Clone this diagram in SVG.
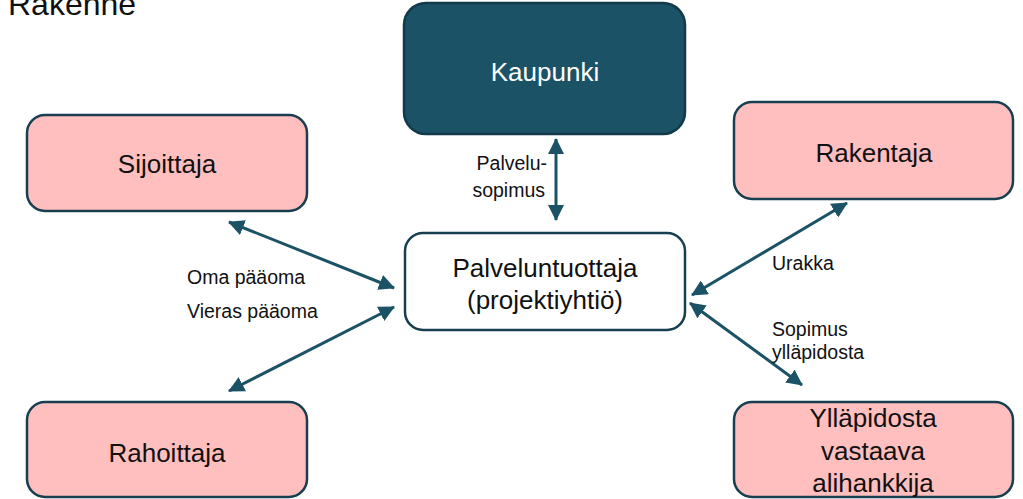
<svg xmlns="http://www.w3.org/2000/svg" width="1023" height="499" viewBox="0 0 1023 499">
  <style>
    .box { fill: #ffbfbf; stroke: #173f4f; stroke-width: 2.5; }
    .dark { fill: #1b5266; stroke: #123a4a; stroke-width: 2.5; }
    .plain { fill: #ffffff; stroke: #173f4f; stroke-width: 2.5; }
    .node-text { font-family: "Liberation Sans", Arial, sans-serif; font-size: 26px; fill: #111111; text-anchor: middle; }
    .label { font-family: "Liberation Sans", Arial, sans-serif; font-size: 19.5px; fill: #111111; }
    .link { stroke: #1b5266; stroke-width: 3; fill: none; marker-start: url(#head); marker-end: url(#head); }
  </style>
  <defs>
    <marker id="head" viewBox="0 0 16 16" refX="15" refY="8" markerWidth="16" markerHeight="16" markerUnits="userSpaceOnUse" orient="auto-start-reverse">
      <path d="M0,0 L16,8 L0,16 Z" fill="#1b5266"/>
    </marker>
  </defs>

  <rect width="1023" height="499" fill="#ffffff"/>

  <!-- heading runs past the top edge -->
  <text x="8" y="15" font-family="Liberation Sans, Arial, sans-serif" font-size="32" fill="#111111">Rakenne</text>

  <g id="kaupunki">
    <rect class="dark" x="404" y="3" width="281" height="131" rx="22"/>
    <text class="node-text" x="545" y="81" style="fill:#ffffff">Kaupunki</text>
  </g>

  <g id="sijoittaja">
    <rect class="box" x="27" y="115" width="280" height="96" rx="18"/>
    <text class="node-text" x="167" y="173">Sijoittaja</text>
  </g>

  <g id="rakentaja">
    <rect class="box" x="734" y="102" width="279" height="97" rx="18"/>
    <text class="node-text" x="874" y="162">Rakentaja</text>
  </g>

  <g id="palveluntuottaja">
    <rect class="plain" x="405" y="233" width="280" height="97" rx="18"/>
    <text class="node-text" x="545" y="277">Palveluntuottaja</text>
    <text class="node-text" x="545" y="309">(projektiyhtiö)</text>
  </g>

  <g id="rahoittaja">
    <rect class="box" x="27" y="402" width="280" height="95" rx="18"/>
    <text class="node-text" x="167" y="462">Rahoittaja</text>
  </g>

  <g id="alihankkija">
    <rect class="box" x="734" y="402" width="279" height="95" rx="18"/>
    <text class="node-text" x="873" y="427">Ylläpidosta</text>
    <text class="node-text" x="873" y="460">vastaava</text>
    <text class="node-text" x="873" y="492">alihankkija</text>
  </g>

  <g id="connectors">
    <line class="link" x1="556" y1="139" x2="556" y2="220"/>
    <line class="link" x1="229" y1="222" x2="394" y2="288"/>
    <line class="link" x1="394" y1="307" x2="229" y2="391"/>
    <line class="link" x1="847" y1="203" x2="692" y2="295"/>
    <line class="link" x1="690" y1="303" x2="802" y2="385"/>
  </g>

  <g id="labels">
    <text class="label" x="547" y="170" text-anchor="end">Palvelu-</text>
    <text class="label" x="545" y="197" text-anchor="end">sopimus</text>
    <text class="label" x="187" y="284">Oma pääoma</text>
    <text class="label" x="187" y="318">Vieras pääoma</text>
    <text class="label" x="772" y="270">Urakka</text>
    <text class="label" x="772" y="336">Sopimus</text>
    <text class="label" x="772" y="359">ylläpidosta</text>
  </g>
</svg>
